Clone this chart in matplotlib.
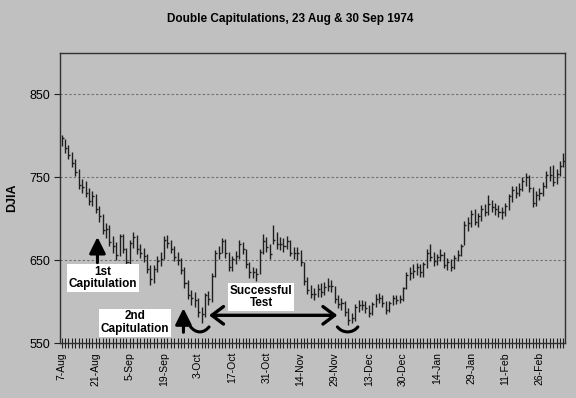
#-*-coding:utf-8-*-
import numpy as np
import matplotlib
matplotlib.use("Agg")
import matplotlib.pyplot as plt
from matplotlib.path import Path
from matplotlib.patches import PathPatch

plt.rcParams["font.family"] = ["Liberation Sans", "DejaVu Sans"]

#DJIA daily high / low / close, 7 Aug 1974 - early Mar 1975
close = [797.6,784.9,777.3,767.3,756.4,740.5,737.9,731.5,721.8,726.9,
         711.5,703.8,686.8,688.1,671.5,666.6,656.8,678.6,663.3,648.0,
         670.8,677.9,662.9,658.2,654.7,639.8,627.2,639.8,648.8,651.9,
         674.1,670.8,663.7,654.1,650.0,638.0,622.0,607.9,604.8,601.5,
         587.6,584.6,607.6,602.6,631.0,658.2,658.2,673.5,658.4,642.3,
         651.4,654.9,669.8,662.9,645.0,636.3,636.2,633.8,659.3,673.0,
         665.5,657.2,674.8,669.1,669.1,667.2,672.6,659.2,659.2,658.4,
         647.6,624.9,614.1,609.6,608.6,615.3,611.9,617.3,619.3,618.7,
         603.0,596.6,598.6,587.1,577.6,579.9,593.9,595.4,596.4,592.8,
         586.8,597.5,603.5,604.4,598.5,589.6,598.4,604.7,602.2,603.3,
         616.2,632.0,634.5,637.2,641.2,635.4,645.3,658.8,654.2,648.7,
         653.4,655.7,644.6,647.5,641.9,652.6,656.8,666.6,692.7,694.8,
         706.0,696.4,703.7,711.4,708.1,717.9,714.2,711.9,708.4,707.6,
         715.0,726.9,734.2,731.3,736.4,745.4,749.8,736.9,719.2,728.1,
         731.2,739.1,753.1,752.8,744.7,754.5,764.0,770.0]
high = [801,796,789,781,772,760,748,745,737,733,
        730,715,706,695,693,679,672,682,681,665,
        674,684,680,669,665,657,644,644,655,660,
        679,680,674,667,660,653,642,626,614,612,
        604,593,610,613,634,662,667,677,675,660,
        655,661,674,672,664,648,642,641,663,681,
        678,670,693,684,678,677,679,674,666,666,
        662,648,630,620,617,621,622,624,628,626,
        619,608,604,601,592,586,597,602,602,601,
        596,600,609,611,608,601,601,608,608,608,
        618,636,642,645,647,645,648,664,670,660,
        658,663,660,653,652,656,662,669,697,702,
        710,712,707,716,718,729,722,719,717,714,
        719,730,739,740,743,750,755,753,738,733,
        737,744,758,764,765,760,770,779]
low = [788,779,772,762,751,736,731,726,717,715,
       707,696,682,677,667,659,650,655,659,643,
       645,665,658,653,648,635,620,622,636,643,
       652,665,659,649,644,633,617,603,596,594,
       582,574,582,596,600,630,651,659,653,637,
       637,645,652,657,640,629,628,625,633,657,
       660,651,670,664,662,660,664,655,652,650,
       643,620,609,604,602,605,606,608,613,612,
       598,592,590,583,572,574,577,588,590,586,
       582,584,594,598,594,585,588,596,597,598,
       601,615,626,629,632,630,630,641,649,643,
       644,649,640,638,637,639,649,655,668,685,
       690,692,690,697,703,704,708,705,702,700,
       703,711,720,725,727,734,740,732,714,715,
       722,727,737,746,740,742,752,762]
tick_labels = ["7-Aug","21-Aug","5-Sep","19-Sep","3-Oct","17-Oct","31-Oct","14-Nov",
               "29-Nov","13-Dec","30-Dec","14-Jan","29-Jan","11-Feb","26-Feb"]
y_ticks = [550, 650, 750, 850]

bg = "#c0c0c0"
fig = plt.figure(figsize=(5.76, 3.98), dpi=100, facecolor=bg)
ax = fig.add_axes([0.104, 0.138, 0.877, 0.729], facecolor=bg)

x = np.arange(len(close))
#high-low-close bars
ax.vlines(x, low, high, color="#1e1e1e", lw=1.0, zorder=3)
ax.hlines(close, x, x + 0.6, color="#1e1e1e", lw=1.0, zorder=3)

ax.set_xlim(-0.5, len(close) - 0.5)
ax.set_ylim(550, 900)
ax.set_yticks(y_ticks)
ax.set_yticklabels([str(v) for v in y_ticks], fontsize=9)
for v in y_ticks[1:]:
    ax.axhline(v, color="#6e6e6e", lw=0.8, linestyle=(0, (2, 2)), zorder=1)

ax.set_xticks(np.arange(0, len(close), 10))
ax.set_xticklabels(tick_labels, rotation=90, fontsize=7.5)
ax.set_xticks(np.arange(0, len(close)), minor=True)
ax.tick_params(axis="x", which="both", direction="inout", length=7, width=0.8, colors="#202020")
ax.tick_params(axis="y", direction="out", length=4, width=0.8, colors="#202020")
ax.tick_params(axis="x", which="major", pad=3, labelcolor="black")
ax.tick_params(axis="y", labelcolor="black", pad=3)
for s in ax.spines.values():
    s.set_color("#303030")
    s.set_linewidth(1.0)

fig.text(0.503, 0.953, "Double Capitulations, 23 Aug & 30 Sep 1974", ha="center", va="center",
         fontsize=8.5, fontweight="bold")
ax.set_ylabel("DJIA", fontsize=9, fontweight="bold")
ax.yaxis.set_label_coords(-0.083, 0.5)

#annotation boxes
box = dict(boxstyle="square,pad=0.15", fc="white", ec="none")
ax.text(12.1, 628.3, "1st\nCapitulation", ha="center", va="center", fontsize=8.5,
        fontweight="bold", bbox=box, zorder=5, linespacing=1.05)
ax.text(21.5, 574.7, "2nd\nCapitulation", ha="center", va="center", fontsize=8.5,
        fontweight="bold", bbox=box, zorder=5, linespacing=1.05)
ax.text(58.5, 605.4, "Successful\nTest", ha="center", va="center", fontsize=8.5,
        fontweight="bold", bbox=box, zorder=5, linespacing=1.05)

#up arrows
ax.annotate("", xy=(10.5, 678), xytext=(10.5, 647),
            arrowprops=dict(arrowstyle="-|>,head_length=0.7,head_width=0.35", lw=2.2,
                            color="black", mutation_scale=14, shrinkA=0, shrinkB=0), zorder=6)
ax.annotate("", xy=(35.7, 592), xytext=(35.7, 563),
            arrowprops=dict(arrowstyle="-|>,head_length=0.7,head_width=0.35", lw=2.2,
                            color="black", mutation_scale=14, shrinkA=0, shrinkB=0), zorder=6)
#successful test arrow
ax.annotate("", xy=(43.2, 583.5), xytext=(80.8, 583.5),
            arrowprops=dict(arrowstyle="<->,head_length=0.6,head_width=0.45", lw=2.4,
                            color="black", mutation_scale=14, shrinkA=0, shrinkB=0), zorder=6)

#brackets under the two lows
for x0, x1 in [(37.8, 43.2), (80.8, 86.8)]:
    xm = (x0 + x1) / 2
    verts = [(x0, 569.5), (x0 + 1.2, 563.5), (xm, 563.5), (x1 - 1.2, 563.5), (x1, 569.5)]
    codes = [Path.MOVETO, Path.CURVE3, Path.CURVE3, Path.CURVE3, Path.CURVE3]
    ax.add_patch(PathPatch(Path(verts, codes), fc="none", ec="black", lw=2.2,
                           capstyle="round", zorder=6, clip_on=False))

fig.savefig("out.png", dpi=100, facecolor=bg)
